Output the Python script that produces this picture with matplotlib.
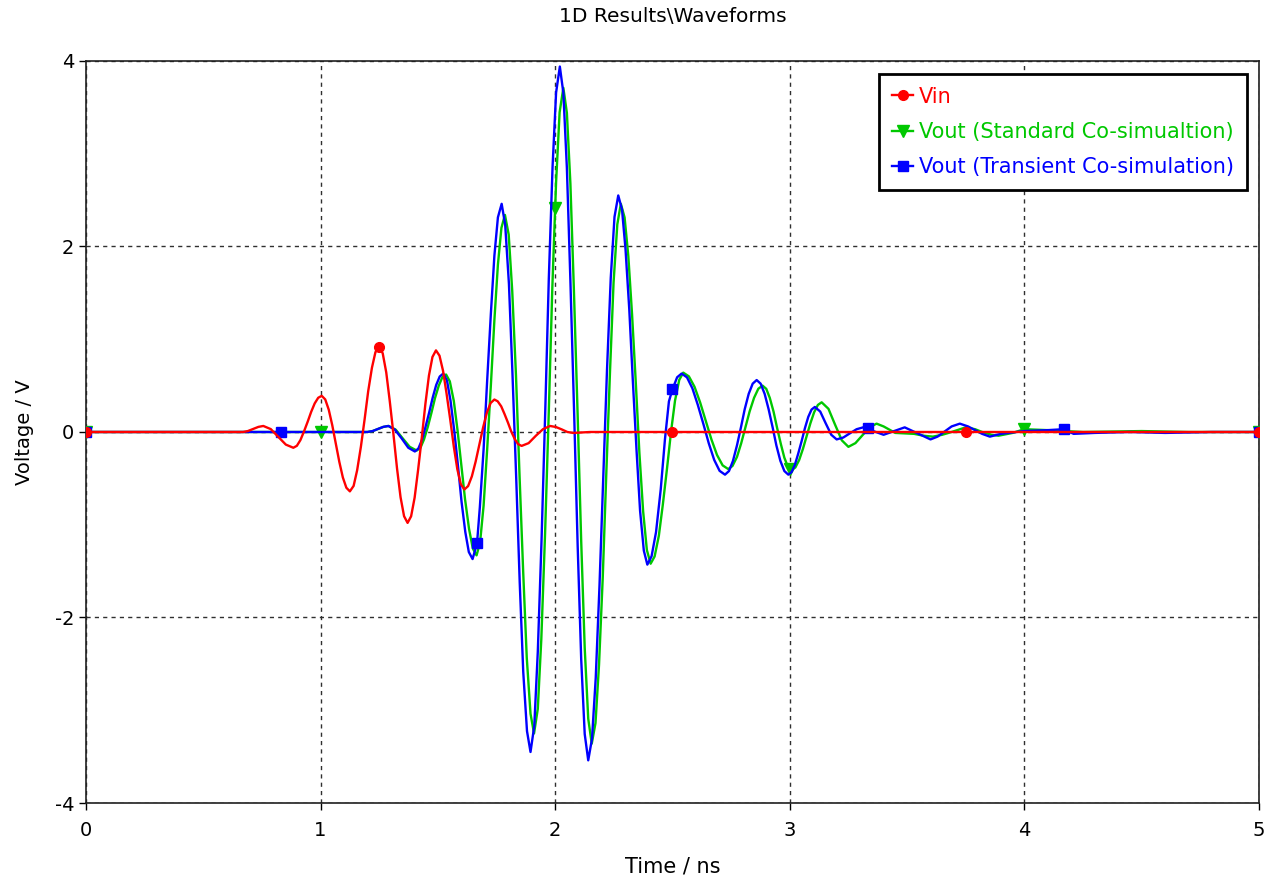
import matplotlib
matplotlib.use("Agg")
import matplotlib.pyplot as plt

plt.rcParams['axes.unicode_minus'] = False

# Vin (red)
vin_t = [0.0, 0.67, 0.69, 0.713, 0.735, 0.756, 0.788, 0.82, 0.852, 0.884,
         0.899, 0.914, 0.929, 0.945, 0.96, 0.975, 0.99, 1.005,
         1.02, 1.035, 1.05, 1.065, 1.08, 1.095, 1.11, 1.125,
         1.141, 1.156, 1.172, 1.188, 1.203, 1.219, 1.234, 1.25,
         1.265, 1.28, 1.295, 1.311, 1.326, 1.341, 1.356, 1.371,
         1.386, 1.401, 1.416, 1.432, 1.447, 1.462, 1.477, 1.492,
         1.507, 1.522, 1.537, 1.553, 1.568, 1.583, 1.598, 1.613,
         1.629, 1.645, 1.661, 1.677, 1.693, 1.709, 1.725, 1.741,
         1.755, 1.77, 1.784, 1.799, 1.813, 1.828, 1.842, 1.857,
         1.887, 1.918, 1.948, 1.978, 2.003, 2.028, 2.052, 2.077,
         2.15, 2.5, 3.75, 5.0]
vin_v = [0.0, 0.0, 0.01, 0.033, 0.055, 0.065, 0.031, -0.053, -0.136, -0.17,
         -0.149, -0.088, 0.003, 0.11, 0.217, 0.308, 0.369, 0.39,
         0.351, 0.24, 0.072, -0.125, -0.322, -0.49, -0.601, -0.64,
         -0.581, -0.412, -0.158, 0.14, 0.438, 0.692, 0.861, 0.92,
         0.848, 0.643, 0.333, -0.03, -0.393, -0.703, -0.908, -0.98,
         -0.909, -0.708, -0.405, -0.05, 0.305, 0.608, 0.809, 0.88,
         0.823, 0.661, 0.416, 0.13, -0.157, -0.401, -0.563, -0.62,
         -0.583, -0.478, -0.32, -0.135, 0.05, 0.208, 0.313, 0.35,
         0.331, 0.277, 0.195, 0.10, 0.004, -0.077, -0.131, -0.15,
         -0.12, -0.04, 0.03, 0.065, 0.054, 0.028, 0.0, -0.01,
         0.0, 0.0, 0.0, 0.0]
vin_marks = [0.0, 1.25, 2.5, 3.75, 5.0]

# Vout, standard co-simulation (green)
std_t = [0.0, 1.0, 1.2, 1.222, 1.245, 1.268, 1.29, 1.32, 1.35, 1.38, 1.41,
         1.426, 1.441, 1.457, 1.473, 1.488, 1.504, 1.519, 1.535,
         1.551, 1.568, 1.584, 1.6, 1.616, 1.633, 1.649, 1.665,
         1.68, 1.695, 1.71, 1.726, 1.741, 1.756, 1.771, 1.786,
         1.802, 1.817, 1.833, 1.848, 1.864, 1.879, 1.895, 1.91,
         1.926, 1.941, 1.957, 1.973, 1.988, 2.0, 2.004, 2.019, 2.035,
         2.05, 2.065, 2.08, 2.096, 2.111, 2.126, 2.141, 2.156,
         2.172, 2.187, 2.203, 2.218, 2.234, 2.249, 2.265, 2.28,
         2.296, 2.312, 2.328, 2.344, 2.359, 2.375, 2.391, 2.407,
         2.424, 2.442, 2.459, 2.477, 2.494, 2.511, 2.529, 2.546,
         2.57, 2.594, 2.618, 2.642, 2.666, 2.69, 2.714, 2.738,
         2.756, 2.775, 2.793, 2.811, 2.829, 2.848, 2.866, 2.884,
         2.9, 2.915, 2.931, 2.946, 2.962, 2.977, 2.992, 3.0, 3.008,
         3.024, 3.04, 3.056, 3.072, 3.088, 3.104, 3.12, 3.136,
         3.165, 3.193, 3.222, 3.25, 3.28, 3.31, 3.34, 3.37,
         3.40, 3.45, 3.53, 3.57, 3.61, 3.65, 3.69, 3.75, 3.79, 3.82,
         3.86, 3.89, 3.95, 4.0, 4.1, 4.25, 4.5, 4.7, 5.0]
std_v = [0.0, 0.0, 0.0, 0.01, 0.033, 0.055, 0.065, 0.026, -0.068, -0.16, -0.2,
         -0.169, -0.08, 0.053, 0.21, 0.367, 0.50, 0.589, 0.62,
         0.546, 0.335, 0.017, -0.355, -0.727, -1.045, -1.256, -1.33,
         -1.191, -0.794, -0.196, 0.505, 1.206, 1.804, 2.201, 2.34,
         2.128, 1.524, 0.613, -0.455, -1.523, -2.434, -3.038, -3.25,
         -2.986, -2.234, -1.099, 0.23, 1.559, 2.42, 2.694, 3.446, 3.71,
         3.441, 2.678, 1.525, 0.175, -1.175, -2.328, -3.091, -3.36,
         -3.139, -2.51, -1.562, -0.45, 0.662, 1.61, 2.239, 2.46,
         2.313, 1.894, 1.261, 0.52, -0.221, -0.854, -1.273, -1.42,
         -1.342, -1.119, -0.783, -0.39, 0.003, 0.339, 0.562, 0.64,
         0.60, 0.488, 0.319, 0.12, -0.079, -0.248, -0.36, -0.40,
         -0.366, -0.269, -0.122, 0.05, 0.222, 0.369, 0.466, 0.50,
         0.465, 0.367, 0.219, 0.045, -0.129, -0.277, -0.375, -0.40, -0.41,
         -0.382, -0.303, -0.184, -0.045, 0.094, 0.213, 0.292, 0.32,
         0.25, 0.08, -0.09, -0.16, -0.12, -0.035, 0.05, 0.09,
         0.06, -0.01, -0.02, -0.04, -0.05, -0.03, 0.0, 0.05, 0.03, 0.0,
         -0.03, -0.04, -0.01, 0.03, 0.02, 0.0, 0.01, 0.0, 0.0]
std_marks = [0.0, 1.0, 2.0, 3.0, 4.0, 5.0]

# Vout, transient co-simulation (blue)
tr_t = [0.0, 0.833, 1.2, 1.222, 1.245, 1.267, 1.289, 1.317, 1.346, 1.374, 1.402,
        1.417, 1.432, 1.447, 1.463, 1.478, 1.493, 1.508, 1.523,
        1.539, 1.554, 1.57, 1.586, 1.601, 1.617, 1.632, 1.648,
        1.667, 1.679, 1.695, 1.71, 1.726, 1.741, 1.756, 1.772,
        1.787, 1.803, 1.818, 1.834, 1.849, 1.864, 1.88, 1.895,
        1.911, 1.926, 1.942, 1.958, 1.973, 1.989, 2.004, 2.02,
        2.035, 2.05, 2.065, 2.081, 2.096, 2.111, 2.126, 2.141,
        2.157, 2.173, 2.189, 2.205, 2.221, 2.237, 2.253, 2.269,
        2.285, 2.3, 2.316, 2.331, 2.347, 2.362, 2.378, 2.393,
        2.411, 2.43, 2.45, 2.468, 2.485, 2.5, 2.52, 2.539,
        2.562, 2.585, 2.608, 2.632, 2.655, 2.678, 2.701, 2.724,
        2.741, 2.758, 2.775, 2.792, 2.808, 2.825, 2.842, 2.859,
        2.876, 2.893, 2.91, 2.927, 2.943, 2.96, 2.977, 2.994,
        3.008, 3.022, 3.036, 3.051, 3.065, 3.079, 3.093, 3.107,
        3.13, 3.153, 3.177, 3.2, 3.228, 3.256, 3.285, 3.313,
        3.333, 3.356, 3.40, 3.445, 3.49, 3.545, 3.60, 3.63, 3.66, 3.69,
        3.725, 3.76, 3.79, 3.82, 3.853, 3.9, 4.0, 4.1, 4.167, 4.21,
        4.3, 4.45, 4.6, 4.8, 5.0]
tr_v = [0.0, 0.0, 0.0, 0.01, 0.033, 0.055, 0.065, 0.025, -0.07, -0.17, -0.21,
        -0.178, -0.087, 0.05, 0.21, 0.37, 0.507, 0.598, 0.63,
        0.554, 0.338, 0.012, -0.37, -0.752, -1.078, -1.294, -1.37,
        -1.2, -0.811, -0.187, 0.545, 1.277, 1.901, 2.314, 2.46,
        2.235, 1.597, 0.634, -0.495, -1.624, -2.587, -3.225, -3.45,
        -3.169, -2.371, -1.166, 0.245, 1.656, 2.861, 3.659, 3.94,
        3.656, 2.848, 1.629, 0.2, -1.229, -2.448, -3.256, -3.54,
        -3.309, -2.651, -1.658, -0.495, 0.668, 1.661, 2.319, 2.55,
        2.399, 1.969, 1.32, 0.56, -0.2, -0.849, -1.279, -1.43,
        -1.34, -1.08, -0.62, -0.08, 0.33, 0.46, 0.59, 0.63,
        0.589, 0.471, 0.293, 0.085, -0.123, -0.301, -0.419, -0.46,
        -0.421, -0.311, -0.145, 0.05, 0.245, 0.411, 0.521, 0.56,
        0.521, 0.411, 0.245, 0.05, -0.145, -0.311, -0.421, -0.46,
        -0.432, -0.353, -0.234, -0.095, 0.044, 0.163, 0.242, 0.27,
        0.22, 0.095, -0.03, -0.08, -0.06, -0.015, 0.03, 0.05,
        0.04, 0.01, -0.03, 0.01, 0.05, -0.015, -0.08, -0.05, 0.005, 0.06,
        0.09, 0.06, 0.02, -0.02, -0.05, -0.02, 0.01, 0.02, 0.03, -0.02,
        -0.01, 0.0, -0.01, 0.0, 0.0]
tr_marks = [0.0, 0.833, 1.667, 2.5, 3.333, 4.167, 5.0]

red, green, blue = '#ff0000', '#00c800', '#0000ff'


def mark_idx(ts, marks):
    return [ts.index(m) for m in marks]


fig = plt.figure(figsize=(12.64, 8.8), dpi=100)
ax = fig.add_axes([0.068, 0.0875, 0.928, 0.8432])

ax.plot(vin_t, vin_v, color=red, lw=1.7, marker='o', ms=7,
        markevery=mark_idx(vin_t, vin_marks), label='Vin', zorder=5)
ax.plot(std_t, std_v, color=green, lw=1.7, marker='v', ms=8,
        markevery=mark_idx(std_t, std_marks),
        label='Vout (Standard Co-simualtion)', zorder=3)
ax.plot(tr_t, tr_v, color=blue, lw=1.7, marker='s', ms=7,
        markevery=mark_idx(tr_t, tr_marks),
        label='Vout (Transient Co-simulation)', zorder=4)

ax.set_xlim(0, 5)
ax.set_ylim(-4, 4)
ax.set_xticks([0, 1, 2, 3, 4, 5])
ax.set_yticks([-4, -2, 0, 2, 4])
ax.grid(True, color='#303030', linestyle=(0, (3, 3)), linewidth=1.0)
ax.tick_params(labelsize=14, length=5, width=1, direction='out')
ax.tick_params(axis='x', pad=8)
for s in ax.spines.values():
    s.set_linewidth(1.2)
    s.set_color('#202020')

ax.set_xlabel('Time / ns', fontsize=15, labelpad=12)
ax.set_ylabel('Voltage / V', fontsize=14, labelpad=15)
ax.set_title('1D Results\\Waveforms', fontsize=14.5, pad=28)

leg = ax.legend(loc='upper right', bbox_to_anchor=(0.99, 0.983), fontsize=15,
                handlelength=1.0, handletextpad=0.3, labelspacing=0.74,
                borderpad=0.62, fancybox=False, framealpha=1,
                edgecolor='black', borderaxespad=0)
leg.get_frame().set_linewidth(2)
for txt, c in zip(leg.get_texts(), [red, green, blue]):
    txt.set_color(c)

plt.savefig('out.png', dpi=100)
plt.close()
